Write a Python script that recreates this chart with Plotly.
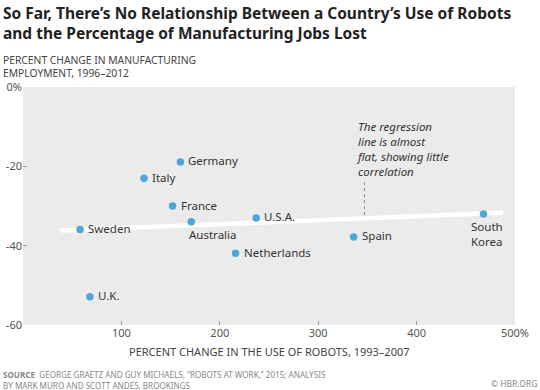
import plotly.graph_objects as go

# ---- data ----
countries = ["Germany", "Italy", "France", "Australia", "Sweden", "U.S.A.",
             "Netherlands", "U.K.", "Spain", "South<br>Korea"]
robots_change = [160, 123, 152, 171, 58, 237, 216, 68, 336, 468]
mfg_change = [-18.9, -23.0, -30.0, -34.0, -35.9, -33.0, -41.9, -52.9, -37.8, -32.0]

trend_x = [38, 488]
trend_y = [-36.2, -31.7]

x_tickvals = [100, 200, 300, 400, 500]
x_ticktext = ["100", "200", "300", "400", "500%"]
y_tickvals = [-60, -40, -20, 0]
y_ticktext = ["-60", "-40", "-20", "0%"]

title_lines = ["So Far, There’s No Relationship Between a Country’s Use of Robots",
               "and the Percentage of Manufacturing Jobs Lost"]
ytitle_lines = ["PERCENT CHANGE IN MANUFACTURING", "EMPLOYMENT, 1996–2012"]
source_lines = ["<b>SOURCE</b>  GEORGE GRAETZ AND GUY MICHAELS, “ROBOTS AT WORK,” 2015; ANALYSIS",
                "BY MARK MURO AND SCOTT ANDES, BROOKINGS"]

FONT = "Noto Sans"
TXT = "#333333"

L, R, T, B = 23, 25, 87, 65
PW, PH = 540 - L - R, 390 - T - B


def px(xp):
    return (xp - L) / PW


def py(yp):
    return (390 - B - yp) / PH


fig = go.Figure()

fig.add_trace(go.Scatter(x=trend_x, y=trend_y, mode="lines",
                         line=dict(color="white", width=4.5),
                         hoverinfo="skip", showlegend=False))

fig.add_trace(go.Scatter(x=robots_change, y=mfg_change, mode="markers",
                         marker=dict(color="#4fa6da", size=7.5),
                         showlegend=False))

# point labels
for name, xv, yv in zip(countries, robots_change, mfg_change):
    if name == "Australia":
        fig.add_annotation(x=xv, y=yv, text=name, showarrow=False,
                           xanchor="left", yanchor="top", xshift=-4, yshift=-3,
                           font=dict(family=FONT, size=11.5, color=TXT))
    elif name.startswith("South"):
        fig.add_annotation(x=xv, y=yv, text=name, showarrow=False,
                           xanchor="center", yanchor="top", xshift=3, yshift=-3,
                           align="left",
                           font=dict(family=FONT, size=11.5, color=TXT))
    else:
        fig.add_annotation(x=xv, y=yv, text=name, showarrow=False,
                           xanchor="left", yanchor="middle", xshift=6, yshift=1,
                           font=dict(family=FONT, size=11.5, color=TXT))

# regression note
note_x = 347
fig.add_annotation(x=note_x, y=-7.5, xshift=-10, text="The regression<br>line is almost<br>flat, showing little<br>correlation",
                   showarrow=False, xanchor="left", yanchor="top", align="left",
                   font=dict(family=FONT, size=11.5, color=TXT, style="italic"))
fig.add_trace(go.Scatter(x=[note_x, note_x], y=[-24.0, -32.4], mode="lines",
                         line=dict(color="#8a8a8a", width=1, dash="dot"),
                         hoverinfo="skip", showlegend=False))
fig.add_annotation(x=note_x, y=-32.7, ax=0, ay=-2, text="", showarrow=True,
                   arrowhead=5, arrowsize=1.4, arrowwidth=1, arrowcolor="#8a8a8a")

fig.update_layout(
    width=540, height=390,
    margin=dict(l=L, r=R, t=T, b=B, autoexpand=False),
    paper_bgcolor="white", plot_bgcolor="#ebebeb",
    font=dict(family=FONT, color=TXT),
    showlegend=False,
)
fig.update_xaxes(range=[0, 500], tickvals=x_tickvals, ticktext=x_ticktext,
                 ticks="inside", ticklen=4, tickcolor="#999999", tickwidth=1,
                 showgrid=False, zeroline=False, showline=False,
                 tickfont=dict(family=FONT, size=11, color="#555555"))
fig.update_yaxes(range=[-60, 0], tickvals=y_tickvals, ticktext=y_ticktext,
                 ticks="inside", ticklen=4, tickcolor="#999999", tickwidth=1,
                 showgrid=False, zeroline=False, showline=False,
                 tickfont=dict(family=FONT, size=11, color="#555555"))

fig.add_annotation(xref="paper", yref="paper", x=px(1), y=py(0), xanchor="left", yanchor="top",
                   text="<br>".join("<b>" + t + "</b>" for t in title_lines), align="left",
                   showarrow=False, font=dict(family=FONT, size=15.5, color="#222222"))
fig.add_annotation(xref="paper", yref="paper", x=px(1), y=py(50.5), xanchor="left", yanchor="top",
                   text="<br>".join(ytitle_lines), align="left",
                   showarrow=False, font=dict(family=FONT, size=10.3, color="#444444"))
fig.add_annotation(xref="paper", yref="paper", x=px(269), y=py(351.5), xanchor="center", yanchor="middle",
                   text="PERCENT CHANGE IN THE USE OF ROBOTS, 1993–2007",
                   showarrow=False, font=dict(family=FONT, size=11, color="#444444"))
fig.add_annotation(xref="paper", yref="paper", x=px(1), y=py(366.5), xanchor="left", yanchor="top",
                   text="<br>".join(source_lines), align="left",
                   showarrow=False, font=dict(family=FONT, size=8.1, color="#888888"))
fig.add_annotation(xref="paper", yref="paper", x=px(539), y=py(383.5), xanchor="right", yanchor="middle",
                   text="© HBR.ORG", showarrow=False,
                   font=dict(family=FONT, size=8.5, color="#888888"))

fig.write_html("out.html", config={"displayModeBar": False},
               post_script="document.body.style.margin='0';")
